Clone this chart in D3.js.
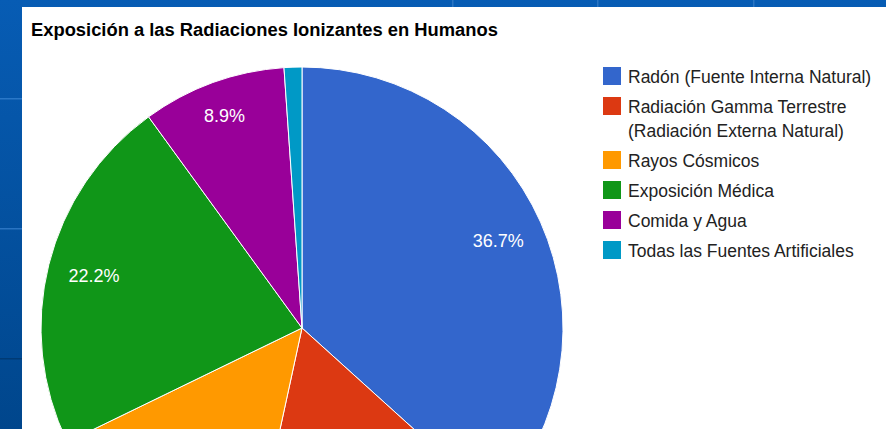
<!DOCTYPE html>
<html>
<head>
<meta charset="utf-8">
<script src="https://cdn.jsdelivr.net/npm/d3@7"></script>
<style>
  html, body { margin: 0; padding: 0; background: #ffffff; }
  svg { display: block; }
  text { font-family: Arial, "Liberation Sans", sans-serif; }
</style>
</head>
<body>
<svg id="chart" width="886" height="429"></svg>
<script>
// Exposure sources (clockwise from 12 o'clock) and their share in percent
const categories = [
  ["Radón (Fuente Interna Natural)"],
  ["Radiación Gamma Terrestre", "(Radiación Externa Natural)"],
  ["Rayos Cósmicos"],
  ["Exposición Médica"],
  ["Comida y Agua"],
  ["Todas las Fuentes Artificiales"]
];
const shares = [36.7, 16.7, 14.4, 22.2, 8.9, 1.1];
const colors = ["#3366cc", "#dc3912", "#ff9900", "#109618", "#990099", "#0099c6"];
const title = "Exposición a las Radiaciones Ionizantes en Humanos";

const W = 886, H = 429;
const svg = d3.select("#chart");

// Slide backdrop: blue frame around a white chart panel
const defs = svg.append("defs");
const grad = defs.append("linearGradient").attr("id", "bg").attr("x1", 0).attr("y1", 0).attr("x2", 0).attr("y2", 1);
grad.append("stop").attr("offset", 0).attr("stop-color", "#075cb4");
grad.append("stop").attr("offset", 1).attr("stop-color", "#00468c");
svg.append("rect").attr("width", W).attr("height", H).attr("fill", "url(#bg)");
const frame = svg.append("g");
[[0, 98, "#2a78c8"], [0, 228, "#2a74c2"], [0, 358, "#003a74"]].forEach(([x, y, c]) => {
  frame.append("rect").attr("x", x).attr("y", y).attr("width", 22).attr("height", 1.5).attr("fill", c);
});
[452, 597, 753].forEach(x => {
  frame.append("rect").attr("x", x).attr("y", 0).attr("width", 1.5).attr("height", 7).attr("fill", "#2a74c2");
});
svg.append("rect").attr("x", 22).attr("y", 7).attr("width", W - 22).attr("height", H - 7).attr("fill", "#ffffff");

// Title
svg.append("text")
  .attr("x", 31).attr("y", 35.5)
  .attr("font-size", 18.35).attr("font-weight", "bold").attr("fill", "#000000")
  .text(title);

// Pie
const cx = 302, cy = 328, R = 261;
const pie = d3.pie().sort(null).value(d => d)(shares);
const arc = d3.arc().innerRadius(0).outerRadius(R);
const pg = svg.append("g").attr("transform", `translate(${cx},${cy})`);
pg.selectAll("path").data(pie).join("path")
  .attr("d", arc)
  .attr("fill", (d, i) => colors[i])
  .attr("stroke", "#ffffff").attr("stroke-width", 1);

// Slice labels: pushed out along the mid-angle until the text box nears the rim;
// labels that land below the visible panel are left out
const labelFs = 18;
const inner = R * 0.923;
const total = d3.sum(shares);
pie.forEach((d, i) => {
  const pct = d.value / total;
  if (pct < 0.05) return;
  const t = pg.append("text")
    .attr("font-size", labelFs).attr("fill", "#ffffff")
    .attr("text-anchor", "middle")
    .text((pct * 100).toFixed(1) + "%");
  const w = t.node().getComputedTextLength();
  const h = labelFs * 0.8;
  const a = (d.startAngle + d.endAngle) / 2;
  const ux = Math.sin(a), uy = -Math.cos(a);
  const far = dist => {
    const x = ux * dist, y = uy * dist;
    return Math.hypot(Math.abs(x) + w / 2, Math.abs(y) + h / 2);
  };
  let lo = 0, hi = R;
  for (let k = 0; k < 40; k++) {
    const m = (lo + hi) / 2;
    if (far(m) > inner) hi = m; else lo = m;
  }
  const ly = uy * lo;
  if (cy + ly + h / 2 > H) { t.remove(); return; }
  t.attr("x", ux * lo).attr("y", ly + labelFs * 0.36);
});

// Legend
const lg = svg.append("g");
const legendFs = 17.5;
let yc = 76;
categories.forEach((lines, i) => {
  lg.append("rect")
    .attr("x", 603).attr("y", yc - 9).attr("width", 18).attr("height", 18)
    .attr("fill", colors[i]);
  lines.forEach((ln, j) => {
    lg.append("text")
      .attr("x", 628).attr("y", yc + 7 + j * 24)
      .attr("font-size", legendFs).attr("fill", "#222222")
      .text(ln);
  });
  yc += 30 + 24 * (lines.length - 1);
});
</script>
</body>
</html>
